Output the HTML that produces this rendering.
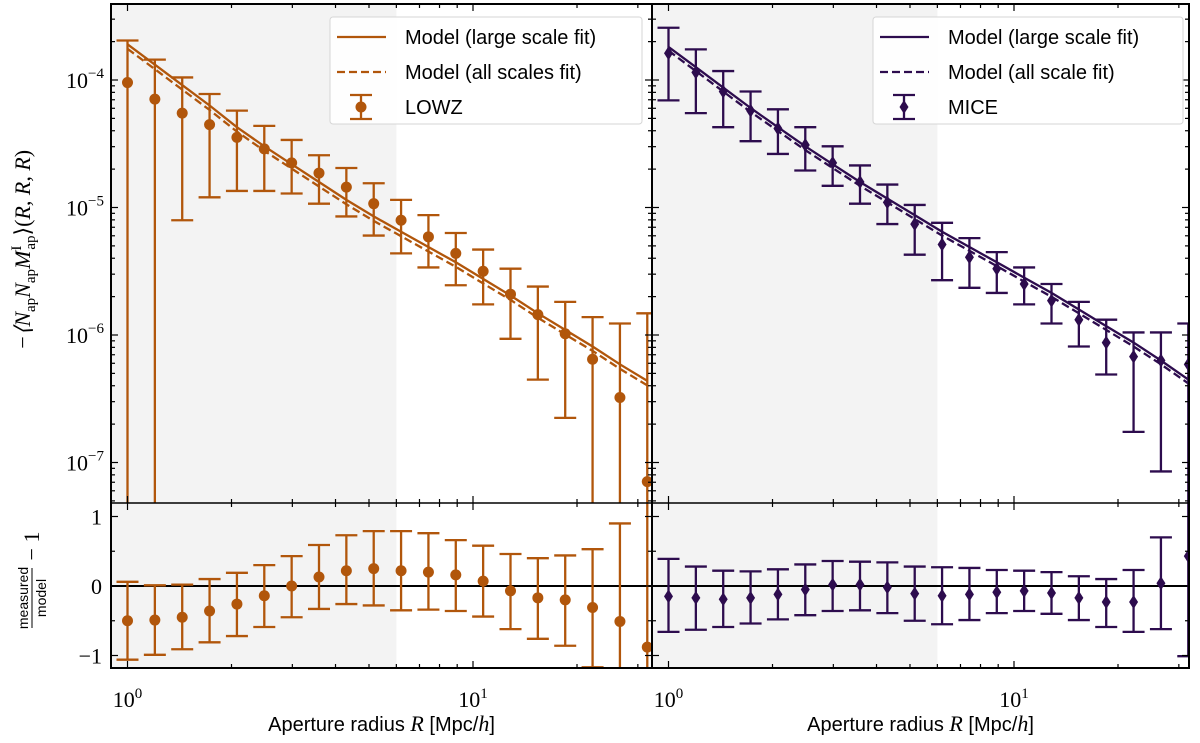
<!DOCTYPE html>
<html><head><meta charset="utf-8">
<style>
html,body{margin:0;padding:0;background:#fff;width:1200px;height:743px;overflow:hidden;}
svg{display:block;font-family:"Liberation Sans",sans-serif;}
.ser{font-family:"Liberation Serif",serif;}
</style></head>
<body>
<svg id="chart" width="1200" height="743" viewBox="0 0 1200 743" xmlns="http://www.w3.org/2000/svg"></svg>
<script>
// ---- data ----
const radiusIndex = [0,1,2,3,4,5,6,7,8,9,10,11,12,13,14,15,16,17,18,19];
const radiusRatio = 1.2;
const shadeLimit = 6;
// log10 values
const lowzLog =    [-4.02,-4.15,-4.26,-4.35,-4.45,-4.54,-4.65,-4.73,-4.84,-4.97,-5.10,-5.23,-5.36,-5.50,-5.68,-5.84,-5.99,-6.19,-6.49,-7.15];
const lowzUpLog =  [-3.69,-3.84,-3.98,-4.11,-4.24,-4.36,-4.47,-4.59,-4.69,-4.81,-4.94,-5.06,-5.20,-5.33,-5.48,-5.62,-5.74,-5.86,-5.91,-5.83];
const lowzLoLog =  [-9,-9,-5.10,-4.92,-4.87,-4.87,-4.89,-4.97,-5.07,-5.22,-5.36,-5.47,-5.61,-5.76,-6.03,-6.35,-6.65,-9,-9,-9];
const lowzModelLog=[-3.72,-3.88,-4.04,-4.20,-4.37,-4.52,-4.66,-4.80,-4.94,-5.07,-5.19,-5.31,-5.43,-5.56,-5.69,-5.83,-5.96,-6.09,-6.23,-6.36];
const lowzAllOffset = -0.035;
const miceLog =    [-3.79,-3.94,-4.09,-4.24,-4.38,-4.51,-4.65,-4.80,-4.96,-5.13,-5.29,-5.39,-5.48,-5.60,-5.73,-5.88,-6.06,-6.17,-6.20,-6.23];
const miceUpLog =  [-3.59,-3.76,-3.93,-4.09,-4.23,-4.37,-4.52,-4.67,-4.82,-4.98,-5.12,-5.24,-5.35,-5.47,-5.60,-5.74,-5.88,-5.98,-5.98,-5.91];
const miceLoLog =  [-4.16,-4.26,-4.37,-4.48,-4.58,-4.71,-4.83,-4.97,-5.13,-5.37,-5.57,-5.63,-5.67,-5.76,-5.91,-6.09,-6.31,-6.76,-7.07,-9];
const miceModelLog=[-3.74,-3.90,-4.06,-4.22,-4.37,-4.52,-4.66,-4.80,-4.93,-5.06,-5.19,-5.31,-5.43,-5.55,-5.67,-5.80,-5.93,-6.06,-6.20,-6.35];
const miceAllOffset = -0.03;
const lowzRatio =  [-0.50,-0.49,-0.45,-0.36,-0.26,-0.14,0.00,0.13,0.22,0.25,0.22,0.20,0.16,0.07,-0.07,-0.17,-0.20,-0.31,-0.51,-0.88];
const lowzRatioUp =[0.06,0.01,0.02,0.10,0.19,0.30,0.43,0.59,0.73,0.79,0.79,0.76,0.66,0.58,0.46,0.40,0.44,0.53,0.90,3];
const lowzRatioLo =[-1.06,-0.99,-0.91,-0.81,-0.72,-0.59,-0.45,-0.33,-0.26,-0.28,-0.35,-0.34,-0.36,-0.44,-0.62,-0.76,-0.86,-1.17,-3,-3];
const miceRatio =  [-0.15,-0.17,-0.19,-0.17,-0.12,-0.05,0.02,0.02,-0.02,-0.11,-0.14,-0.12,-0.09,-0.07,-0.10,-0.17,-0.23,-0.23,0.04,0.43];
const miceRatioUp =[0.39,0.28,0.22,0.21,0.24,0.31,0.36,0.35,0.34,0.28,0.27,0.26,0.23,0.22,0.20,0.14,0.10,0.23,0.70,3];
const miceRatioLo =[-0.66,-0.63,-0.59,-0.54,-0.48,-0.42,-0.36,-0.35,-0.39,-0.50,-0.55,-0.49,-0.39,-0.36,-0.40,-0.49,-0.59,-0.66,-0.62,-1.01];
const yTickExps = [-4,-5,-6,-7];
const ratioTicks = [1,0,-1];
const xTickExps = [0,1];

// ---- layout ----
const svg = document.getElementById('chart');
const NS = 'http://www.w3.org/2000/svg';
const TOP = 4, MID = 503, BOT = 668;
const DEC = 345.5, XOFF = 16.5;
const panels = [{l:111, r:652, name:'lowz'}, {l:652, r:1189, name:'mice'}];
const ORANGE = '#b1560b', PURPLE = '#2d0c4e';
function mk(tag, attrs, parent){const e=document.createElementNS(NS,tag);for(const k in attrs)e.setAttribute(k,attrs[k]);(parent||svg).appendChild(e);return e;}
function xs(p,R){return p.l + XOFF + Math.log10(R)*DEC;}
function yt(lg){return 80 + (-4 - lg)*127.5;}
function yb(v){return 586 - 69.5*v;}
const defs = mk('defs',{});
panels.forEach((p,i)=>{
  const c1 = mk('clipPath',{id:'ct'+i},defs); mk('rect',{x:p.l,y:TOP,width:p.r-p.l,height:MID-TOP},c1);
  const c2 = mk('clipPath',{id:'cb'+i},defs); mk('rect',{x:p.l,y:MID,width:p.r-p.l,height:BOT-MID},c2);
});

function drawSeries(p, idx, color, center, up, lo, model, off, ratio, rUp, rLo, marker, name){
  const gt = mk('g',{'clip-path':'url(#ct'+idx+')'});
  
  
  const gb = mk('g',{'clip-path':'url(#cb'+idx+')'});
  
  
  const s1 = mk('rect',{x:p.l,y:TOP,width:xs(p,shadeLimit)-p.l,height:MID-TOP,fill:'#f3f3f3'},gt);
  
  
  const s2 = mk('rect',{x:p.l,y:MID,width:xs(p,shadeLimit)-p.l,height:BOT-MID,fill:'#f3f3f3'},gb);
  
  
  let d1='',d2='';
  radiusIndex.forEach((k,j)=>{const x=xs(p,Math.pow(radiusRatio,k));d1+=(j?'L':'M')+x.toFixed(1)+','+yt(model[j]).toFixed(1);d2+=(j?'L':'M')+x.toFixed(1)+','+yt(model[j]+off).toFixed(1);});
  const m1 = mk('path',{d:d1,fill:'none',stroke:color,'stroke-width':2.3},gt);
  
  
  const m2 = mk('path',{d:d2,fill:'none',stroke:color,'stroke-width':2.3,'stroke-dasharray':'8,4'},gt);
  
  
  mk('line',{x1:p.l,x2:p.r,y1:yb(0),y2:yb(0),stroke:'#000','stroke-width':2},gb);
  radiusIndex.forEach((k,j)=>{
    const x = xs(p,Math.pow(radiusRatio,k));
    [[gt,yt(up[j]),yt(lo[j]),yt(center[j])],[gb,yb(rUp[j]),yb(rLo[j]),yb(ratio[j])]].forEach(([g,ya,yl,yc])=>{
      const eg = mk('g',{},g);
      
      
      mk('line',{x1:x,x2:x,y1:ya,y2:yl,stroke:color,'stroke-width':2.3},eg);
      mk('line',{x1:x-11,x2:x+11,y1:ya,y2:ya,stroke:color,'stroke-width':2.3},eg);
      mk('line',{x1:x-11,x2:x+11,y1:yl,y2:yl,stroke:color,'stroke-width':2.3},eg);
      if(marker==='o') mk('circle',{cx:x,cy:yc,r:5.5,fill:color},eg);
      else mk('path',{d:`M${x},${yc-7}L${x+4.5},${yc}L${x},${yc+7}L${x-4.5},${yc}Z`,fill:color},eg);
    });
  });
}
drawSeries(panels[0],0,ORANGE,lowzLog,lowzUpLog,lowzLoLog,lowzModelLog,lowzAllOffset,lowzRatio,lowzRatioUp,lowzRatioLo,'o','lowz');
drawSeries(panels[1],1,PURPLE,miceLog,miceUpLog,miceLoLog,miceModelLog,miceAllOffset,miceRatio,miceRatioUp,miceRatioLo,'d','mice');

// ---- axes, ticks ----
const ax = mk('g',{stroke:'#000','stroke-width':1.2});


panels.forEach(p=>{
  mk('rect',{x:p.l,y:TOP,width:p.r-p.l,height:BOT-TOP,fill:'none','stroke-width':2},ax);
  mk('line',{x1:p.l,x2:p.r,y1:MID,y2:MID,'stroke-width':1.6},ax);
  for(let e=-1;e<=1;e++)for(let m=1;m<10;m++){
    const x = xs(p,m*Math.pow(10,e)); if(x<p.l+1||x>p.r-1) continue;
    const L = m===1?7:4;
    [TOP,MID,BOT].forEach(yy=>{
      if(yy!==TOP) mk('line',{x1:x,x2:x,y1:yy,y2:yy-L},ax);
      if(yy!==BOT) mk('line',{x1:x,x2:x,y1:yy,y2:yy+L},ax);
    });
  }
  for(let e=-8;e<=-3;e++)for(let m=1;m<10;m++){
    const y = yt(e+Math.log10(m)); if(y<TOP+1||y>MID-1) continue;
    const L = m===1?7:4;
    mk('line',{x1:p.l,x2:p.l+L,y1:y,y2:y},ax); mk('line',{x1:p.r,x2:p.r-L,y1:y,y2:y},ax);
  }
  for(let v=-1;v<=1;v+=0.5){const y=yb(v);const L=Number.isInteger(v)?7:4;
    mk('line',{x1:p.l,x2:p.l+L,y1:y,y2:y},ax); mk('line',{x1:p.r,x2:p.r-L,y1:y,y2:y},ax);}
  xTickExps.forEach(e=>{
    const t = mk('text',{x:xs(p,Math.pow(10,e)),y:707,'text-anchor':'middle','font-size':22,class:'ser',fill:'#000',stroke:'none'});
    
    
    t.innerHTML = '10<tspan dy="-9" font-size="15">'+e+'</tspan>';
  });
  const xl = mk('text',{x:(p.l+p.r)/2,y:731,'text-anchor':'middle','font-size':20,fill:'#000',stroke:'none'});
  
  
  xl.innerHTML = 'Aperture radius <tspan font-family="Liberation Serif" font-style="italic" font-size="22">R</tspan> [Mpc/<tspan font-family="Liberation Serif" font-style="italic" font-size="22">h</tspan>]';
});
yTickExps.forEach(e=>{
  const t = mk('text',{x:104,y:yt(e)+8,'text-anchor':'end','font-size':22,class:'ser',fill:'#000'});
  
  
  t.innerHTML = '10<tspan dy="-10" font-size="15">\u2212'+(-e)+'</tspan>';
});
ratioTicks.forEach(v=>{
  const t = mk('text',{x:102,y:yb(v)+8,'text-anchor':'end','font-size':22,class:'ser',fill:'#000'});
  
  
  t.textContent = v<0?'\u2212'+(-v):String(v);
});
const yl = mk('text',{transform:'translate(30,250) rotate(-90)','text-anchor':'middle','font-size':22,class:'ser','font-style':'italic',fill:'#000'});


yl.innerHTML = '\u2212\u27E8N<tspan dy="5" font-size="15" font-style="normal">ap</tspan><tspan dy="-5">N</tspan><tspan dy="5" font-size="15" font-style="normal">ap</tspan><tspan dy="-5">M</tspan><tspan dy="-9" font-size="15" font-style="normal">I</tspan><tspan dx="-4" dy="14" font-size="15" font-style="normal">ap</tspan><tspan dy="-5" font-style="normal">\u27E9(</tspan>R, R, R<tspan font-style="normal">)</tspan>';
const rl = mk('g',{transform:'translate(32,586) rotate(-90)'});


mk('text',{x:-12,y:-4,'text-anchor':'middle','font-size':14,fill:'#000'},rl).textContent='measured';
mk('line',{x1:-42,x2:18,y1:0,y2:0,stroke:'#000','stroke-width':1},rl);
mk('text',{x:-12,y:14,'text-anchor':'middle','font-size':14,fill:'#000'},rl).textContent='model';
mk('text',{x:40,y:7,'text-anchor':'middle','font-size':22,class:'ser',fill:'#000'},rl).textContent='\u2212 1';

// ---- legends ----
function legend(x,y,w,color,labels,marker,name){
  const g = mk('g',{});
  
  
  mk('rect',{x:x,y:y,width:w,height:107,rx:3,fill:'#fff','fill-opacity':0.85,stroke:'#d6d6d6','stroke-width':1},g);
  const ys=[y+20,y+55,y+90];
  mk('line',{x1:x+7,x2:x+56,y1:ys[0],y2:ys[0],stroke:color,'stroke-width':2.3},g);
  mk('line',{x1:x+7,x2:x+56,y1:ys[1],y2:ys[1],stroke:color,'stroke-width':2.3,'stroke-dasharray':'8,4'},g);
  const cx=x+31;
  mk('line',{x1:cx,x2:cx,y1:ys[2]-12,y2:ys[2]+12,stroke:color,'stroke-width':2.3},g);
  mk('line',{x1:cx-11,x2:cx+11,y1:ys[2]-12,y2:ys[2]-12,stroke:color,'stroke-width':2.3},g);
  mk('line',{x1:cx-11,x2:cx+11,y1:ys[2]+12,y2:ys[2]+12,stroke:color,'stroke-width':2.3},g);
  if(marker==='o') mk('circle',{cx:cx,cy:ys[2],r:5.5,fill:color},g);
  else mk('path',{d:`M${cx},${ys[2]-7}L${cx+4.5},${ys[2]}L${cx},${ys[2]+7}L${cx-4.5},${ys[2]}Z`,fill:color},g);
  labels.forEach((t,i)=>{const e=mk('text',{x:x+75,y:ys[i]+7,'font-size':20,fill:'#000'},g);
    
    
    e.textContent=t;});
}
legend(330,17,312,ORANGE,['Model (large scale fit)','Model (all scales fit)','LOWZ'],'o','legend-lowz');
legend(873,17,310,PURPLE,['Model (large scale fit)','Model (all scale fit)','MICE'],'d','legend-mice');
</script>
</body></html>
